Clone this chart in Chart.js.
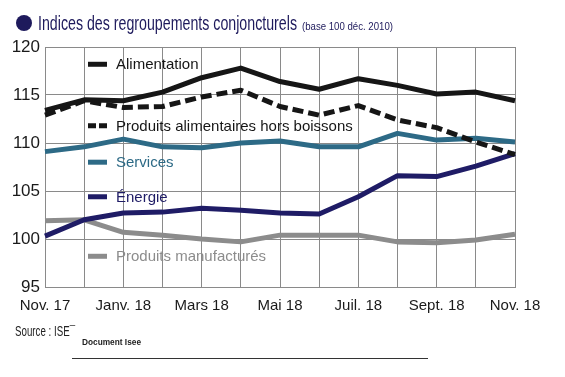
<!DOCTYPE html>
<html lang="fr">
<head>
<meta charset="UTF-8">
<title>Indices des regroupements conjoncturels</title>
<script src="https://cdn.jsdelivr.net/npm/chart.js@4.4.1/dist/chart.umd.min.js"></script>
<style>
  html, body { margin: 0; padding: 0; background: #fff; }
  #chart { display: block; }
</style>
</head>
<body>
<canvas id="chart" width="565" height="377"></canvas>
<script>
// mois de nov. 2017 a nov. 2018, un libelle sur deux affiche
const months = ['Nov. 17', 'Déc. 17', 'Janv. 18', 'Févr. 18', 'Mars 18', 'Avr. 18', 'Mai 18',
                'Juin 18', 'Juil. 18', 'Août 18', 'Sept. 18', 'Oct. 18', 'Nov. 18'];
const alimentation     = [113.4, 114.5, 114.4, 115.3, 116.8, 117.8, 116.4, 115.6, 116.7, 116.0, 115.1, 115.3, 114.4];
const alimHorsBoissons = [112.9, 114.4, 113.7, 113.8, 114.8, 115.5, 113.8, 112.9, 113.9, 112.4, 111.6, 110.1, 108.8];
const services         = [109.1, 109.6, 110.4, 109.6, 109.5, 110.0, 110.2, 109.6, 109.6, 111.0, 110.3, 110.5, 110.1];
const energie          = [100.3, 102.0, 102.7, 102.8, 103.2, 103.0, 102.7, 102.6, 104.4, 106.6, 106.5, 107.6, 108.9];
const manufactures     = [101.9, 102.0, 100.7, 100.4, 100.0, 99.7, 100.4, 100.4, 100.4, 99.7, 99.6, 99.9, 100.5];
const yTicks = [95, 100, 105, 110, 115, 120];

const NARROW = '"Liberation Sans Narrow", "Liberation Sans", Arial, sans-serif';
const SANS = '"Liberation Sans", Arial, sans-serif';

function serie(label, data, color, dash) {
  return {
    label: label,
    data: data,
    borderColor: color,
    backgroundColor: color,
    borderWidth: 5,
    borderDash: dash || [],
    borderCapStyle: 'butt',
    borderJoinStyle: 'round',
    pointRadius: 0,
    tension: 0,
    fill: false
  };
}

// texte compresse horizontalement pour tenir dans une largeur donnee
function fitText(ctx, text, x, y, font, width) {
  ctx.save();
  ctx.font = font;
  const w = ctx.measureText(text).width;
  ctx.translate(x, y);
  ctx.scale(width / w, 1);
  ctx.fillText(text, 0, 0);
  ctx.restore();
}

const legendInside = {
  id: 'legendInside',
  afterDatasetsDraw(chart, args, opts) {
    const ctx = chart.ctx;
    const y = chart.scales.y;
    chart.data.datasets.forEach((ds, i) => {
      const py = y.getPixelForValue(opts.at[i]);
      ctx.save();
      ctx.strokeStyle = ds.borderColor;
      ctx.lineWidth = 5;
      ctx.setLineDash(ds.borderDash.length ? [8, 3] : []);
      ctx.beginPath();
      ctx.moveTo(88, py);
      ctx.lineTo(107, py);
      ctx.stroke();
      ctx.fillStyle = ds.borderColor;
      ctx.font = '15px ' + SANS;
      ctx.textBaseline = 'middle';
      ctx.fillText(ds.label, 116, py + 1);
      ctx.restore();
    });
  }
};

const habillage = {
  id: 'habillage',
  afterDraw(chart) {
    const ctx = chart.ctx;
    ctx.save();
    // puce du titre
    ctx.fillStyle = '#1e1a5c';
    ctx.beginPath();
    ctx.arc(24, 23, 8, 0, Math.PI * 2);
    ctx.fill();
    ctx.textBaseline = 'alphabetic';
    fitText(ctx, 'Indices des regroupements conjoncturels', 38, 30, '21px ' + NARROW, 259);
    fitText(ctx, '(base 100 déc. 2010)', 302, 30, '11px ' + NARROW, 91);
    // source
    ctx.fillStyle = '#222';
    fitText(ctx, 'Source : ISE¯', 15, 336, '15px ' + NARROW, 60);
    fitText(ctx, 'Document Isee', 82, 345, 'bold 9px ' + SANS, 59);
    ctx.strokeStyle = '#333';
    ctx.lineWidth = 1;
    ctx.beginPath();
    ctx.moveTo(72, 358.5);
    ctx.lineTo(428, 358.5);
    ctx.stroke();
    ctx.restore();
  }
};

new Chart(document.getElementById('chart'), {
  type: 'line',
  data: {
    labels: months,
    datasets: [
      serie('Alimentation', alimentation, '#161616'),
      serie('Produits alimentaires hors boissons', alimHorsBoissons, '#161616', [11, 5]),
      serie('Services', services, '#2d6a86'),
      serie('Énergie', energie, '#1f1c66'),
      serie('Produits manufacturés', manufactures, '#8c8c8c')
    ]
  },
  options: {
    responsive: false,
    animation: false,
    layout: { padding: { top: 47, right: 50, bottom: 0, left: 0 } },
    plugins: {
      legend: { display: false },
      tooltip: { enabled: false },
      legendInside: { at: [118.2, 111.8, 108.0, 104.4, 98.2] }
    },
    scales: {
      x: {
        type: 'category',
        offset: false,
        afterFit(scale) { scale.height = 90; },
        grid: { color: '#8a8a8a', lineWidth: 1, drawTicks: false },
        border: { color: '#8a8a8a' },
        ticks: {
          autoSkip: false,
          maxRotation: 0,
          padding: 10,
          color: '#1a1a1a',
          font: { family: SANS, size: 15 },
          callback(value, index) { return index % 2 === 0 ? months[index] : ''; }
        }
      },
      y: {
        min: 95,
        max: 120,
        afterFit(scale) { scale.width = 45; },
        afterBuildTicks(scale) { scale.ticks = yTicks.map(v => ({ value: v })); },
        grid: { color: '#8a8a8a', lineWidth: 1, drawTicks: false },
        border: { color: '#8a8a8a' },
        ticks: {
          padding: 5,
          color: '#1a1a1a',
          font: { family: SANS, size: 17 }
        }
      }
    }
  },
  plugins: [legendInside, habillage]
});
</script>
</body>
</html>
